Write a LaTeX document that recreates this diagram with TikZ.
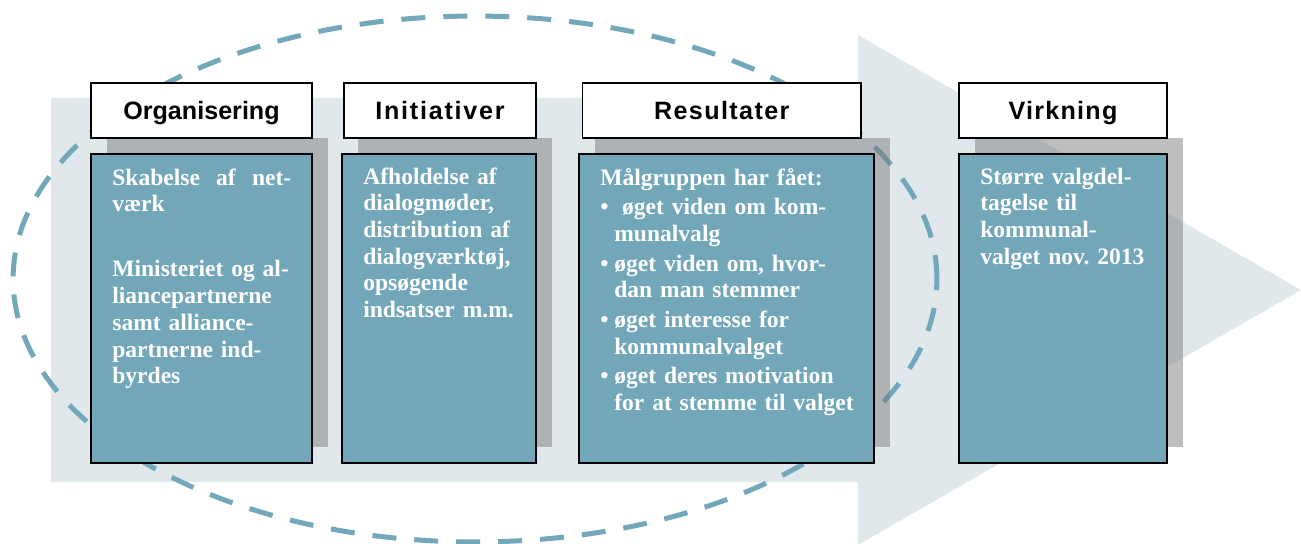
\documentclass[tikz,border=0pt]{standalone}
\usepackage{fontspec}
\setmainfont{Liberation Serif}
\newfontfamily\headfont{Liberation Sans}
\usepackage{xcolor}
\definecolor{arrowgrey}{RGB}{225,232,236}
\definecolor{tealbox}{RGB}{114,167,185}
\definecolor{dashteal}{RGB}{114,168,186}
\definecolor{shadowgrey}{RGB}{120,120,120}
\usetikzlibrary{positioning}
\newcommand{\itemdot}{\makebox[0.28cm][l]{\textbullet}}
\newcommand{\itemgap}{\hspace*{0.28cm}}
\frenchspacing

\begin{document}
\begin{tikzpicture}[
  x=0.02cm, y=-0.02cm,
  head/.style={rectangle, draw=black, line width=0.8pt, fill=white,
               minimum height=1.1cm, inner sep=0pt, text height=10.8pt, text depth=0pt,
               font=\headfont\fontsize{14.3}{16}\selectfont\bfseries},
  body/.style={rectangle, draw=black, line width=1.1pt, fill=tealbox,
               minimum height=6.18cm, inner sep=0pt},
  shade/.style={rectangle, fill=shadowgrey, fill opacity=0.48,
                minimum height=6.18cm, inner sep=0pt},
  txt/.style={anchor=base west, inner sep=0pt, align=left, text=white,
              font=\fontsize{13.4}{15.2}\selectfont\bfseries}
]
  \useasboundingbox (0,0) rectangle (1301,544);

  % Arrow in the background
  \fill[arrowgrey] (51,98) -- (858,98) -- (858,35) -- (1301,290)
    -- (858,545) -- (858,482) -- (51,482) -- cycle;

  % Dashed ellipse
  \draw[dashteal, line width=0.1cm, dash pattern=on 0.48cm off 0.36cm]
    (475,279) ellipse [x radius=9.24cm, y radius=5.26cm];

  % Shadows
  \node[shade, minimum width=4.42cm] (s1) at (217.5,292.5) {};
  \node[shade, minimum width=3.88cm] (s2) at (455,292.5)   {};
  \node[shade, minimum width=5.90cm] (s3) at (742.5,292.5) {};
  \node[shade, minimum width=4.16cm] (s4) at (1079,292.5)  {};

  % Headers
  \node[head, minimum width=4.42cm] (h1) at (201.5,110.5)  {Organisering};
  \node[head, minimum width=3.84cm] (h2) at (440,110.5)    {\addfontfeature{LetterSpace=7}Initiativer};
  \node[head, minimum width=5.57cm] (h3) at (721.75,110.5) {\addfontfeature{LetterSpace=5.5}Resultater};
  \node[head, minimum width=4.16cm] (h4) at (1063,110.5)   {\addfontfeature{LetterSpace=5}Virkning};

  % Boxes
  \node[body, minimum width=4.42cm] (b1) at (201.5,308.5) {};
  \node[body, minimum width=3.88cm] (b2) at (439,308.5)   {};
  \node[body, minimum width=5.90cm] (b3) at (726.5,308.5) {};
  \node[body, minimum width=4.16cm] (b4) at (1063,308.5)  {};

  % Texts
  \node[txt, text width=3.58cm] (t1) at (112,185)
    {Skabelse\hfill af\hfill net-\\ værk\\[0.77cm]
     Ministeriet og al-\\ liancepartnerne\\ samt alliance-\\ partnerne ind-\\ byrdes};
  \node[txt, text width=3.6cm] (t2) at (363,184)
    {Afholdelse af\\ dialogmøder,\\ distribution af\\ dialogværktøj,\\ opsøgende\\ indsatser m.m.};
  \node[txt, text width=6.5cm] (t3) at (600,185)
    {Målgruppen har fået:\\[1.7pt]
     \itemdot\ øget viden om kom-\\ \itemgap munalvalg\\[1.7pt]
     \itemdot øget viden om, hvor-\\ \itemgap dan man stemmer\\[1.7pt]
     \itemdot øget interesse for\\ \itemgap kommunalvalget\\[1.7pt]
     \itemdot øget deres motivation\\ \itemgap for at stemme til valget};
  \node[txt, text width=4cm] (t4) at (980,184)
    {Større valgdel-\\ tagelse til\\ kommunal-\\ valget nov. 2013};
\end{tikzpicture}
\end{document}
